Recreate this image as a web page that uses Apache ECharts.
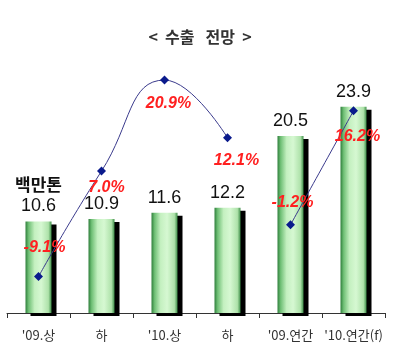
<!DOCTYPE html>
<html><head><meta charset="utf-8">
<script src="https://cdn.jsdelivr.net/npm/echarts@6/dist/echarts.min.js"></script>
<style>html,body{margin:0;padding:0;background:#fff}#c{width:400px;height:358px}</style>
</head><body><div id="c"></div>
<script>
var categories = ["'09.상", "하", "'10.상", "하", "'09.연간", "'10.연간(f)"];
var exportVolume = [10.6, 10.9, 11.6, 12.2, 20.5, 23.9];
var growthHalf = [-9.1, 7.0, 20.9, 12.1, null, null];
var growthYear = [null, null, null, null, -1.2, 16.2];
var unitLabel = '백만톤';
var titleText = '<  수출   전망  >';

var labelOffsets = [[6,-29],[5,16],[4,24],[9,23],[2,-22],[4,26]];

function pctData(arr){
  return arr.map(function(v,i){
    if (v === null) return null;
    return {value: v, label: {offset: labelOffsets[i]}};
  });
}

var chart = echarts.init(document.getElementById('c'), null, {renderer:'canvas'});
var kr = '"Noto Sans CJK KR", "Liberation Sans", sans-serif';
var arial = '"Liberation Sans", Arial, sans-serif';
chart.setOption({
  animation: false,
  title: {text: titleText, left: 'center', top: 24,
    textStyle: {fontSize: 16, fontWeight: 'bold', color: '#333', fontFamily: kr}},
  grid: {left: 7, right: 15, top: 54, bottom: 45},
  xAxis: {type: 'category', data: categories, boundaryGap: true,
    axisLine: {lineStyle: {color: '#333', width: 1}},
    axisTick: {show: true, length: 5, lineStyle: {color: '#333'}},
    axisLabel: {interval: 0, margin: 16, fontSize: 13, color: '#333', fontFamily: kr}},
  yAxis: [
    {type: 'value', min: 0, max: 30, show: false, splitLine: {show: false}},
    {type: 'value', min: -14.66, max: 24.88, show: false, splitLine: {show: false}}
  ],
  series: [
    {type: 'bar', data: exportVolume.map(function(v,i){
        var d = {value: v};
        if (i === 0) d.label = {formatter: '{u|' + unitLabel + '}\n{v|{c}}'};
        return d;
      }),
      barWidth: 26, yAxisIndex: 0,
      itemStyle: {
        color: new echarts.graphic.LinearGradient(0,0,1,0,[
          {offset:0, color:'#2f7f3c'},
          {offset:0.12, color:'#6fbf75'},
          {offset:0.35, color:'#c4f0c0'},
          {offset:0.6, color:'#d6f8d2'},
          {offset:0.88, color:'#aee2aa'},
          {offset:1, color:'#3f8f4a'}]),
        shadowColor: '#000', shadowOffsetX: 5, shadowOffsetY: 3, shadowBlur: 0
      },
      label: {show: true, position: 'top', distance: 4, fontSize: 18, color: '#111',
        fontFamily: arial, lineHeight: 22,
        rich: {u: {fontSize: 17, fontWeight: 'bold', color: '#111', fontFamily: kr, lineHeight: 22},
               v: {fontSize: 18, color: '#111', fontFamily: arial, lineHeight: 22}}}
    },
    {type: 'line', data: pctData(growthHalf), yAxisIndex: 1, smooth: true,
      symbol: 'diamond', symbolSize: 9,
      lineStyle: {color: '#3a3a8c', width: 1}, itemStyle: {color: '#0a1a8c'},
      label: {show: true, position: 'inside', formatter: function(p){return p.value.toFixed(1)+'%';},
        fontSize: 16, fontWeight: 'bold', fontStyle: 'italic', color: '#ff2020', fontFamily: arial}},
    {type: 'line', data: pctData(growthYear), yAxisIndex: 1, smooth: true,
      symbol: 'diamond', symbolSize: 9,
      lineStyle: {color: '#3a3a8c', width: 1}, itemStyle: {color: '#0a1a8c'},
      label: {show: true, position: 'inside', formatter: function(p){return p.value.toFixed(1)+'%';},
        fontSize: 16, fontWeight: 'bold', fontStyle: 'italic', color: '#ff2020', fontFamily: arial}}
  ]
});
</script></body></html>
